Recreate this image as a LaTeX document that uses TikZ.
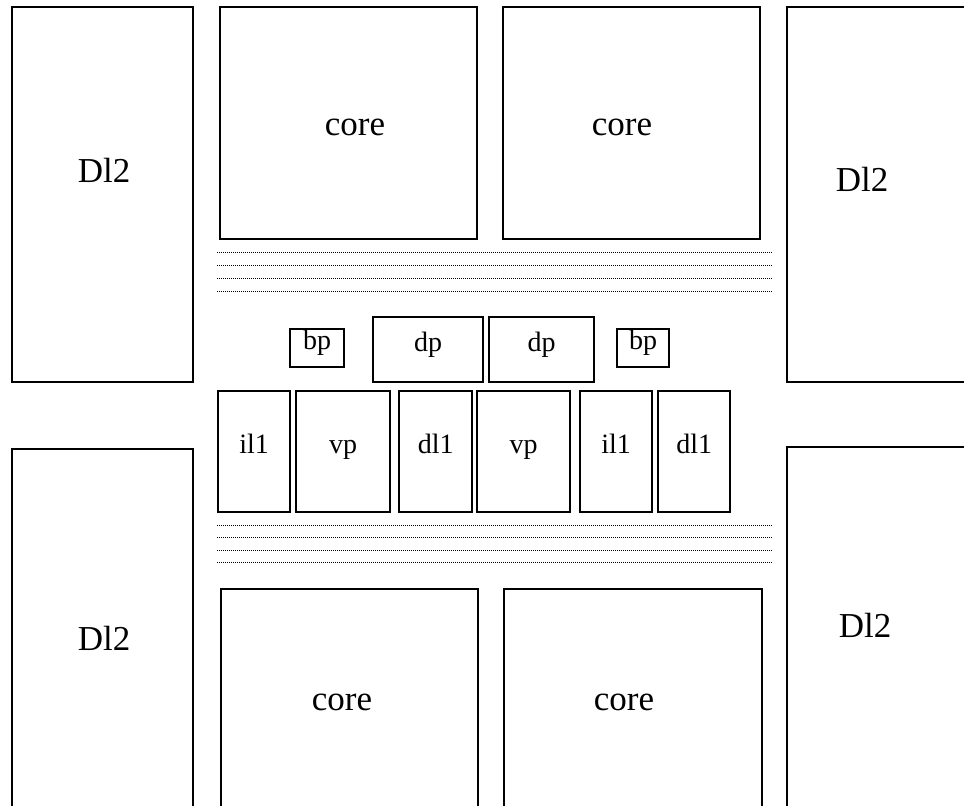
\documentclass[tikz,border=0pt]{standalone}
\usepackage{fontspec}
\setmainfont{Liberation Serif}
\usetikzlibrary{positioning}

\begin{document}
\begin{tikzpicture}[x=1pt,y=-1pt,font=\fontsize{28}{32}\selectfont,
    blk/.style={draw,line width=2.4pt,anchor=north west,inner sep=0pt,text height=0.66em,text depth=0.37em},
    big/.style={anchor=base,font=\fontsize{35}{40}\selectfont},
    bus/.style={line width=0.8pt,dash pattern=on 0.8pt off 1.2pt}]
  \clip (0,0) rectangle (964,806);
  % L2 banks at the four corners
  \node[blk,minimum width=181pt,minimum height=375pt] (dlTL) at (11,6) {};
  \node[blk,minimum width=181pt,minimum height=400pt] (dlBL) at (11,448) {};
  \node[blk,minimum width=200pt,minimum height=375pt] (dlTR) at (786,6) {};
  \node[blk,minimum width=200pt,minimum height=400pt] (dlBR) at (786,446) {};
  \node[big] (tDlTL) at (104,182) {Dl2};
  \node[big] (tDlBL) at (104,650) {Dl2};
  \node[big] (tDlTR) at (862,191) {Dl2};
  \node[big] (tDlBR) at (865,637) {Dl2};
  % cores
  \node[blk,minimum width=257pt,minimum height=232pt] (coreA) at (219,6) {};
  \node[blk,minimum width=257pt,minimum height=232pt] (coreB) at (502,6) {};
  \node[blk,minimum width=257pt,minimum height=260pt] (coreC) at (220,588) {};
  \node[blk,minimum width=258pt,minimum height=260pt] (coreD) at (503,588) {};
  \node[big] (tCoreA) at (355,135) {core};
  \node[big] (tCoreB) at (622,135) {core};
  \node[big] (tCoreC) at (342,710) {core};
  \node[big] (tCoreD) at (624,710) {core};
  % buses
  \foreach \y in {252,265,278,291} \draw[bus] (217,\y) -- (772,\y);
  \foreach \y in {525,537,550,562} \draw[bus] (217,\y) -- (772,\y);
  % predictors and L1s
  \node[blk,minimum width=54pt,minimum height=38pt] (bpA) at (289,328) {bp};
  \node[blk,minimum width=110pt,minimum height=65pt] (dpA) at (372,316) {dp};
  \node[blk,minimum width=105pt,minimum height=65pt] (dpB) at (488,316) {dp};
  \node[blk,minimum width=52pt,minimum height=38pt] (bpB) at (616,328) {bp};
  \node[blk,minimum width=72pt,minimum height=121pt] (ilA) at (217,390) {il1};
  \node[blk,minimum width=94pt,minimum height=121pt] (vpA) at (295,390) {vp};
  \node[blk,minimum width=73pt,minimum height=121pt] (dlA) at (398,390) {dl1};
  \node[blk,minimum width=93pt,minimum height=121pt] (vpB) at (476,390) {vp};
  \node[blk,minimum width=72pt,minimum height=121pt] (ilB) at (579,390) {il1};
  \node[blk,minimum width=72pt,minimum height=121pt] (dlB) at (657,390) {dl1};
\end{tikzpicture}
\end{document}
